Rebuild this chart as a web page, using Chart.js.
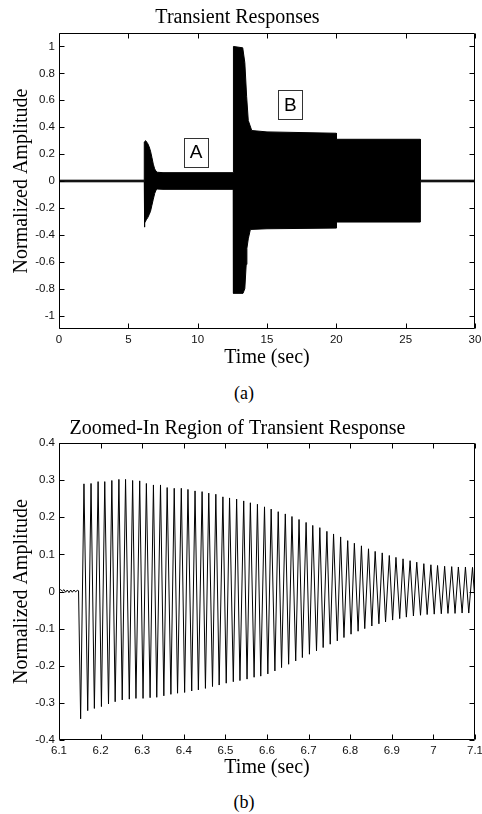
<!DOCTYPE html>
<html>
<head>
<meta charset="utf-8">
<script src="https://cdn.jsdelivr.net/npm/chart.js@4.4.0/dist/chart.umd.min.js"></script>
<style>
body { margin: 0; background: #fff; width: 482px; height: 814px; position: relative; overflow: hidden; }
canvas { position: absolute; left: 0; }
#chartA { top: 0; }
#chartB { top: 405px; }
.cap { position: absolute; left: 3px; width: 482px; text-align: center; font-family: "Liberation Serif", serif; font-size: 18px; color: #000; }
</style>
</head>
<body>
<canvas id="chartA" width="482" height="372"></canvas>
<div class="cap" style="top:383px">(a)</div>
<canvas id="chartB" width="482" height="380"></canvas>
<div class="cap" style="top:792px">(b)</div>
<script>
// (a) envelope of the whole record
const upperTimes = [0, 6.149, 6.15, 6.25, 6.4, 6.5, 6.6, 6.7, 6.8, 6.9, 7.0, 7.1, 7.5, 12.57, 12.58, 13.25, 13.4, 13.53, 13.65, 13.9, 15, 20.0, 20.01, 26.05, 26.06, 30];
const upperValues = [0.006, 0.006, 0.29, 0.30, 0.278, 0.255, 0.222, 0.175, 0.125, 0.09, 0.072, 0.065, 0.062, 0.062, 1.0, 0.99, 0.88, 0.63, 0.45, 0.375, 0.365, 0.355, 0.31, 0.31, 0.006, 0.006];
const lowerTimes = [0, 6.149, 6.15, 6.2, 6.3, 6.4, 6.5, 6.6, 6.7, 6.8, 6.9, 7.0, 7.1, 7.5, 12.57, 12.58, 13.27, 13.4, 13.5, 13.55, 13.65, 13.8, 15, 20.0, 20.01, 26.05, 26.06, 30];
const lowerValues = [-0.006, -0.006, -0.343, -0.31, -0.288, -0.272, -0.25, -0.225, -0.18, -0.135, -0.093, -0.066, -0.06, -0.062, -0.062, -0.835, -0.835, -0.8, -0.62, -0.5, -0.43, -0.36, -0.355, -0.35, -0.305, -0.305, -0.006, -0.006];
const ticksAx = [0, 5, 10, 15, 20, 25, 30];
const ticksAy = [-1, -0.8, -0.6, -0.4, -0.2, 0, 0.2, 0.4, 0.6, 0.8, 1];
const notes = [{ text: 'A', x: 9.88, y: 0.215 }, { text: 'B', x: 16.69, y: 0.565 }];

// (b) zoomed part, 6.1 - 7.1 s
const preTimes = [6.100, 6.104, 6.108, 6.112, 6.116, 6.120, 6.124, 6.128, 6.132, 6.136, 6.140, 6.144, 6.147];
const preValues = [0.002, 0.005, 0.001, 0.005, -0.002, 0.004, -0.003, 0.004, -0.002, 0.004, -0.001, 0.003, 0.002];
const troughTimes = [6.152, 6.169, 6.185, 6.202, 6.219, 6.235, 6.252, 6.269, 6.285, 6.302, 6.319, 6.335, 6.352, 6.369, 6.385, 6.402, 6.419, 6.435, 6.452, 6.469,
  6.485, 6.502, 6.519, 6.535, 6.552, 6.569, 6.585, 6.602, 6.619, 6.635, 6.652, 6.669, 6.685, 6.702, 6.719, 6.735, 6.752, 6.769, 6.785, 6.802,
  6.819, 6.835, 6.852, 6.869, 6.885, 6.902, 6.919, 6.935, 6.952, 6.969, 6.985, 7.002, 7.019, 7.035, 7.052, 7.069, 7.085, 7.102];
const troughValues = [-0.343, -0.321, -0.315, -0.310, -0.303, -0.297, -0.292, -0.290, -0.288, -0.288, -0.286, -0.285, -0.281, -0.277, -0.274, -0.272, -0.268, -0.265, -0.261, -0.256,
  -0.252, -0.247, -0.243, -0.240, -0.236, -0.231, -0.228, -0.222, -0.214, -0.205, -0.196, -0.187, -0.178, -0.169, -0.160, -0.151, -0.142, -0.133, -0.124, -0.115,
  -0.107, -0.100, -0.093, -0.087, -0.082, -0.077, -0.073, -0.069, -0.066, -0.064, -0.062, -0.061, -0.060, -0.059, -0.059, -0.058, -0.058, -0.058];
const peakTimes = [6.160, 6.177, 6.194, 6.210, 6.227, 6.244, 6.260, 6.277, 6.294, 6.310, 6.327, 6.344, 6.360, 6.377, 6.394, 6.410, 6.427, 6.444, 6.460, 6.477,
  6.494, 6.510, 6.527, 6.544, 6.560, 6.577, 6.594, 6.610, 6.627, 6.644, 6.660, 6.677, 6.694, 6.710, 6.727, 6.744, 6.760, 6.777, 6.794, 6.810,
  6.827, 6.844, 6.860, 6.877, 6.894, 6.910, 6.927, 6.944, 6.960, 6.977, 6.994, 7.010, 7.027, 7.044, 7.060, 7.077, 7.094];
const peakValues = [0.290, 0.291, 0.296, 0.296, 0.299, 0.302, 0.302, 0.299, 0.298, 0.291, 0.287, 0.287, 0.280, 0.278, 0.278, 0.275, 0.271, 0.269, 0.265, 0.262,
  0.255, 0.252, 0.249, 0.244, 0.239, 0.235, 0.228, 0.222, 0.215, 0.209, 0.202, 0.194, 0.186, 0.178, 0.172, 0.162, 0.155, 0.147, 0.137, 0.130,
  0.123, 0.115, 0.108, 0.104, 0.097, 0.092, 0.088, 0.083, 0.079, 0.075, 0.072, 0.070, 0.068, 0.067, 0.066, 0.066, 0.065];
const ticksBx = [6.1, 6.2, 6.3, 6.4, 6.5, 6.6, 6.7, 6.8, 6.9, 7.0, 7.1];
const ticksBy = [-0.4, -0.3, -0.2, -0.1, 0, 0.1, 0.2, 0.3, 0.4];

function zip(ts, vs) {
    return ts.map((t, i) => ({ x: t, y: vs[i] }));
}

const zoomPoints = zip(preTimes, preValues)
    .concat(zip(troughTimes, troughValues), zip(peakTimes, peakValues))
    .sort((a, b) => a.x - b.x);

const serif = "'Liberation Serif', 'Times New Roman', serif";
const sans = "'Liberation Sans', Arial, sans-serif";

// matlab style box with inward ticks on all four sides
const boxTicks = {
    id: 'boxTicks',
    afterDatasetsDraw(chart) {
        const { ctx, chartArea: a, scales: { x, y } } = chart;
        ctx.save();
        ctx.strokeStyle = '#000';
        ctx.lineWidth = 1;
        const l = Math.round(a.left) + 0.5, r = Math.round(a.right) - 0.5;
        const t = Math.round(a.top) + 0.5, b = Math.round(a.bottom) - 0.5;
        ctx.beginPath();
        ctx.rect(l, t, r - l, b - t);
        x.ticks.forEach(tk => {
            const px = Math.round(x.getPixelForValue(tk.value)) + 0.5;
            ctx.moveTo(px, b); ctx.lineTo(px, b - 5);
            ctx.moveTo(px, t); ctx.lineTo(px, t + 5);
        });
        y.ticks.forEach(tk => {
            const py = Math.round(y.getPixelForValue(tk.value)) + 0.5;
            ctx.moveTo(l, py); ctx.lineTo(l + 5, py);
            ctx.moveTo(r, py); ctx.lineTo(r - 5, py);
        });
        ctx.stroke();
        ctx.restore();
    }
};

const noteBoxes = {
    id: 'noteBoxes',
    afterDatasetsDraw(chart) {
        if (!chart.options.plugins.noteBoxes) return;
        const { ctx, scales: { x, y } } = chart;
        ctx.save();
        notes.forEach(n => {
            const cx = x.getPixelForValue(n.x), cy = y.getPixelForValue(n.y);
            ctx.fillStyle = '#fff';
            ctx.fillRect(cx - 12, cy - 14.5, 24, 29);
            ctx.strokeStyle = '#333';
            ctx.lineWidth = 1;
            ctx.strokeRect(Math.round(cx - 12) + 0.5, Math.round(cy - 14.5) + 0.5, 24, 29);
            ctx.fillStyle = '#000';
            ctx.font = "19px " + sans;
            ctx.textAlign = 'center';
            ctx.textBaseline = 'middle';
            ctx.fillText(n.text, cx, cy + 1);
        });
        ctx.restore();
    }
};

function axes(xr, yr, xt, yt, xTitlePad) {
    return {
        x: {
            type: 'linear', min: xr[0], max: xr[1],
            grid: { display: false, drawTicks: false },
            border: { display: false },
            afterBuildTicks: s => { s.ticks = xt.map(v => ({ value: v })); },
            afterFit: s => { s.height = xTitlePad.h; s.paddingLeft = 0; s.paddingRight = 0; },
            ticks: { padding: 4, color: '#111', font: { family: sans, size: 11.5 }, maxRotation: 0, autoSkip: false,
                callback: v => String(Math.round(v * 10) / 10) },
            title: { display: true, text: 'Time (sec)', color: '#000', font: { family: serif, size: 20 }, padding: { top: 0, bottom: xTitlePad.b } }
        },
        y: {
            min: yr[0], max: yr[1],
            grid: { display: false, drawTicks: false },
            border: { display: false },
            afterBuildTicks: s => { s.ticks = yt.map(v => ({ value: v })); },
            afterFit: s => { s.width = 59; s.paddingTop = 0; s.paddingBottom = 0; },
            ticks: { padding: 4, color: '#111', font: { family: sans, size: 11.5 }, autoSkip: false,
                callback: v => String(Math.round(v * 10) / 10) },
            title: { display: true, text: 'Normalized Amplitude', color: '#000', font: { family: serif, size: 20 }, padding: { top: 10, bottom: 0 } }
        }
    };
}

new Chart(document.getElementById('chartA'), {
    type: 'line',
    data: {
        datasets: [
            { data: zip(upperTimes, upperValues), borderColor: '#000', backgroundColor: '#000', borderWidth: 1, pointRadius: 0, tension: 0, fill: 'origin' },
            { data: zip(lowerTimes, lowerValues), borderColor: '#000', backgroundColor: '#000', borderWidth: 1, pointRadius: 0, tension: 0, fill: 'origin' }
        ]
    },
    options: {
        responsive: false,
        animation: false,
        devicePixelRatio: 1,
        layout: { padding: { left: 0, right: 7, top: 0, bottom: 0 } },
        plugins: {
            legend: { display: false },
            tooltip: { enabled: false },
            noteBoxes: true,
            title: { display: true, text: 'Transient Responses', color: '#000', font: { family: serif, size: 20, weight: 'normal' }, padding: { top: 6, bottom: 3 } }
        },
        scales: axes([0, 30], [-1.1, 1.1], ticksAx, ticksAy, { h: 43, b: 2 })
    },
    plugins: [boxTicks, noteBoxes]
});

new Chart(document.getElementById('chartB'), {
    type: 'line',
    data: {
        datasets: [
            { data: zoomPoints, borderColor: '#000', borderWidth: 1, pointRadius: 0, tension: 0, fill: false }
        ]
    },
    options: {
        responsive: false,
        animation: false,
        devicePixelRatio: 1,
        layout: { padding: { left: 0, right: 7, top: 0, bottom: 0 } },
        plugins: {
            legend: { display: false },
            tooltip: { enabled: false },
            noteBoxes: false,
            title: { display: true, text: 'Zoomed-In Region of Transient Response', color: '#000', font: { family: serif, size: 20, weight: 'normal' }, padding: { top: 12, bottom: 2 } }
        },
        scales: axes([6.1, 7.1], [-0.4, 0.4], ticksBx, ticksBy, { h: 45, b: 5 })
    },
    plugins: [boxTicks, noteBoxes]
});
</script>
</body>
</html>
